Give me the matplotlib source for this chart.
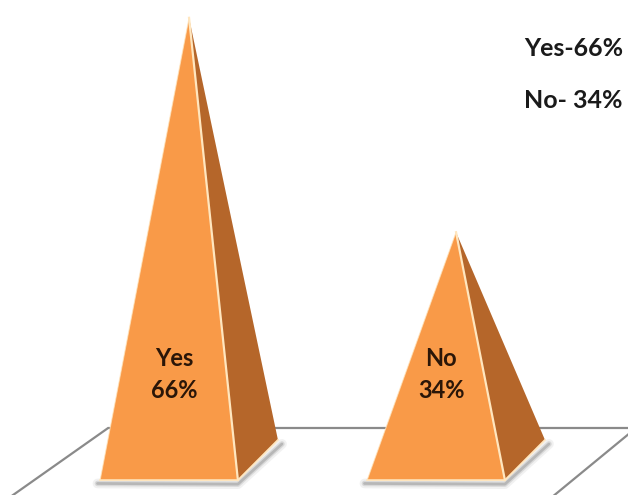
import numpy as np
import matplotlib.pyplot as plt
from matplotlib.patches import Polygon

# chart data
categories = ["Yes", "No"]
values = [66, 34]
legend_lines = ["Yes-66%", "No- 34%"]

FRONT = "#F99A48"
SIDE = "#B5662A"
EDGE = "#FFE6BF"
FLOOR_LINE = "#8a8a8a"
TEXT = "#2b1608"

half_w = 0.258   # half width of square base (category units)
dep_x = 0.15     # oblique depth offset, category units
dep_y = 6.0      # oblique depth offset, value units

plt.rcParams["font.family"] = ["Lato", "DejaVu Sans"]

fig = plt.figure(figsize=(6.28, 4.95), dpi=100)
ax = fig.add_axes([0, 0, 1, 1])
ax.set_xlim(-0.633, 1.719)
ax.set_ylim(-5.22, 68.66)
ax.axis("off")

# floor (back wall line plus two receding sides)
floor_back = 4.78
floor = [(-0.228, floor_back), (1.749, floor_back), (1.359, -8.0), (-0.683, -8.0)]
ax.add_patch(Polygon(floor, closed=True, facecolor="white", edgecolor=FLOOR_LINE,
                     lw=1.6, zorder=1))

pos = np.arange(len(categories))
for cx, cat, v in zip(pos, categories, values):
    fl = (cx - half_w, -dep_y / 2)
    fr = (cx + half_w, -dep_y / 2)
    br = (cx + half_w + dep_x, dep_y / 2)
    apex = (cx + dep_x / 2, v)

    # soft shadow on the floor
    for lw, a in [(7, 0.08), (4, 0.15), (2, 0.25)]:
        sx = [fl[0] - 0.01, fr[0], br[0] + 0.015]
        sy = [fl[1] - 0.5, fr[1] - 0.6, br[1] - 0.6]
        ax.plot(sx, sy, color="#555555", lw=lw, alpha=a, solid_capstyle="round", zorder=2)

    ax.add_patch(Polygon([fr, br, apex], closed=True, facecolor=SIDE,
                         edgecolor="none", zorder=3))
    ax.add_patch(Polygon([fl, fr, apex], closed=True, facecolor=FRONT,
                         edgecolor="none", zorder=4))
    # light edges
    ax.plot([fr[0], apex[0]], [fr[1], apex[1]], color=EDGE, lw=1.6, zorder=5)
    ax.plot([fl[0], fr[0], br[0]], [fl[1], fr[1], br[1]], color=EDGE, lw=1.3, zorder=5)
    ax.plot([fl[0], apex[0]], [fl[1], apex[1]], color=EDGE, lw=0.8, alpha=0.7, zorder=5)

    ax.text(cx + 0.02, 12.8, f"{cat}\n{v}%", ha="center", va="center",
            fontsize=17, fontweight="bold", color=TEXT, linespacing=1.45, zorder=6)

for i, line in enumerate(legend_lines):
    fig.text(524 / 628, 1 - (48 + 52 * i) / 495, line, ha="left", va="center",
             fontsize=18, fontweight="bold", color="#1a1a1a")

fig.savefig("out.png", dpi=100)
